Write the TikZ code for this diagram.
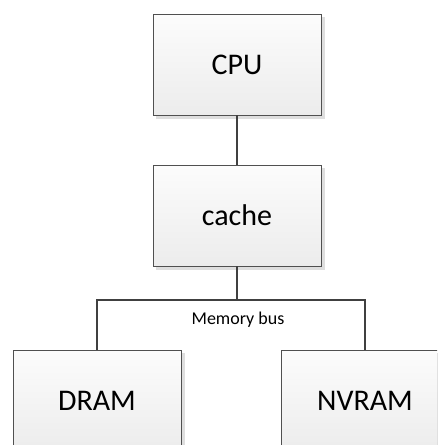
\documentclass[tikz,border=0pt]{standalone}
\usepackage{fontspec}
\setmainfont{Carlito}
\usetikzlibrary{backgrounds}
\definecolor{boxLine}{RGB}{80,80,80}
\definecolor{busLine}{RGB}{64,64,64}
\definecolor{boxTop}{RGB}{252,252,252}
\definecolor{boxBottom}{RGB}{236,236,236}
\definecolor{boxShadow}{RGB}{222,222,222}
\begin{document}
\begin{tikzpicture}[x=1pt, y=1pt,
    boxStyle/.style={rectangle, draw=boxLine, top color=boxTop, bottom color=boxBottom, line width=0.8pt,
        minimum width=168pt, minimum height=101pt, font=\fontsize{30}{36}\selectfont},
    lineStyle/.style={draw=busLine, line width=2pt}]
    \clip (0,0) rectangle (437,-445);

    \node[boxStyle](cpu) at (237, -64.5) {CPU};
    \node[boxStyle](cache) at (237, -215.5) {cache};
    \node[boxStyle](dram) at (97, -400.5) {DRAM};
    \node[boxStyle](nvram) at (365, -400.5) {NVRAM};
    \coordinate (bus) at (237, -300);
    \node[font=\fontsize{18}{22}\selectfont](busLabel) at (238, -320) {Memory bus};

    \draw[lineStyle] (cpu) -- (cache);
    \draw[lineStyle] (cache) -- (bus);
    \draw[lineStyle] (dram.north) |- (bus) -| (nvram.north);

    % shadows behind the boxes
    \begin{scope}[on background layer]
        \fill[white] (0,0) rectangle (437,-445);
        \foreach \b in {cpu, cache, dram, nvram}
            \fill[boxShadow] ([shift={(3.5,-3.5)}]\b.south west) rectangle ([shift={(3.5,-3.5)}]\b.north east);
    \end{scope}
\end{tikzpicture}
\end{document}
